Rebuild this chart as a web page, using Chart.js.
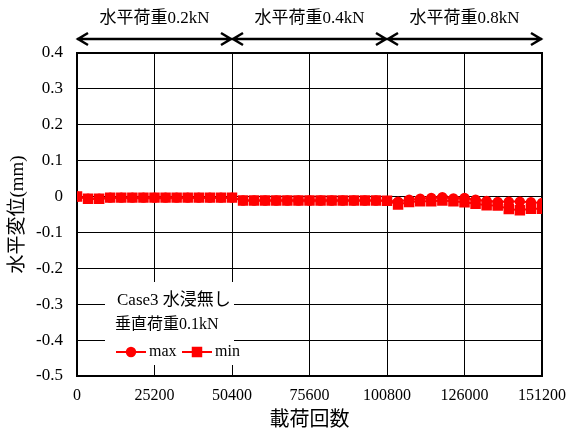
<!DOCTYPE html>
<html>
<head>
<meta charset="utf-8">
<script src="https://cdn.jsdelivr.net/npm/chart.js@4.4.1/dist/chart.umd.min.js"></script>
<style>
  html, body { margin: 0; padding: 0; background: #fff; }
</style>
</head>
<body>
<canvas id="myChart" width="570" height="434"></canvas>
<script>
// 載荷回数
var cycles = [0, 3600, 7200, 10800, 14400, 18000, 21600, 25200, 28800, 32400, 36000,
  39600, 43200, 46800, 50400, 54000, 57600, 61200, 64800, 68400, 72000, 75600,
  79200, 82800, 86400, 90000, 93600, 97200, 100800, 104400, 108000, 111600, 115200,
  118800, 122400, 126000, 129600, 133200, 136800, 140400, 144000, 147600, 151200];
// 水平変位 max / min (mm)
var maxDisp = [0, -0.006, -0.006, -0.003, -0.003, -0.003, -0.003, -0.003, -0.003, -0.003, -0.003,
  -0.003, -0.003, -0.003, -0.003, -0.011, -0.011, -0.011, -0.011, -0.011, -0.011, -0.011,
  -0.011, -0.011, -0.011, -0.011, -0.011, -0.011, -0.012, -0.014, -0.009, -0.006, -0.004,
  -0.002, -0.005, -0.004, -0.009, -0.012, -0.015, -0.014, -0.014, -0.016, -0.018];
var minDisp = [0, -0.006, -0.006, -0.003, -0.003, -0.003, -0.003, -0.003, -0.003, -0.003, -0.003,
  -0.003, -0.003, -0.003, -0.003, -0.011, -0.011, -0.011, -0.011, -0.011, -0.011, -0.011,
  -0.011, -0.011, -0.011, -0.011, -0.011, -0.011, -0.012, -0.022, -0.015, -0.013, -0.013,
  -0.011, -0.013, -0.016, -0.020, -0.024, -0.025, -0.035, -0.038, -0.034, -0.034];

var xTicks = [0, 25200, 50400, 75600, 100800, 126000, 151200];
var yTicks = [0.4, 0.3, 0.2, 0.1, 0, -0.1, -0.2, -0.3, -0.4, -0.5];

// load steps shown above the plot
var stageBounds = [0, 50400, 100800, 151200];
var stageLabels = ['水平荷重0.2kN', '水平荷重0.4kN', '水平荷重0.8kN'];

var caseTitle = 'Case3 水浸無し';
var caseNote = '垂直荷重0.1kN';

var FONT = "'Liberation Serif', 'Noto Sans CJK JP', serif";
Chart.defaults.font.family = FONT;
Chart.defaults.color = '#000';

function pts(vals) {
  return cycles.map(function (c, i) { return { x: c, y: vals[i] }; });
}

// frame + note box, under the data
var framePlugin = {
  id: 'frame',
  beforeDatasetsDraw: function (chart) {
    var ctx = chart.ctx, a = chart.chartArea;
    ctx.save();
    ctx.strokeStyle = '#000';
    ctx.lineWidth = 2;
    ctx.strokeRect(a.left, a.top, a.right - a.left, a.bottom - a.top);

    // note box with case name and legend
    var bx = a.left + 28, by = a.top + 229;
    ctx.fillStyle = '#fff';
    ctx.fillRect(bx, by, 129, 83);
    ctx.fillStyle = '#000';
    ctx.textBaseline = 'middle';
    ctx.textAlign = 'left';
    ctx.font = '17px ' + FONT;
    ctx.fillText(caseTitle, bx + 12, by + 19);
    ctx.font = '16px ' + FONT;
    ctx.fillText(caseNote, bx + 10, by + 43);

    var ly = by + 70;
    chart.data.datasets.forEach(function (ds, i) {
      var x0 = bx + 11 + i * 66;
      ctx.strokeStyle = ds.borderColor;
      ctx.lineWidth = 2;
      ctx.beginPath();
      ctx.moveTo(x0, ly);
      ctx.lineTo(x0 + 30, ly);
      ctx.stroke();
      ctx.fillStyle = ds.pointBackgroundColor;
      Chart.helpers.drawPoint(ctx, {
        pointStyle: ds.pointStyle, radius: ds.pointRadius,
        borderWidth: 1, rotation: 0
      }, x0 + 15, ly);
      ctx.fillStyle = '#000';
      ctx.font = '16px ' + FONT;
      ctx.fillText(ds.label, x0 + 33, ly);
    });
    ctx.restore();
  },
  afterDraw: function (chart) {
    var ctx = chart.ctx, xs = chart.scales.x;
    var ay = 39, head = 11;
    ctx.save();
    ctx.strokeStyle = '#000';
    ctx.fillStyle = '#000';
    ctx.lineWidth = 2.5;
    ctx.font = '17px ' + FONT;
    ctx.textAlign = 'center';
    ctx.textBaseline = 'middle';
    for (var i = 0; i < stageLabels.length; i++) {
      var x0 = xs.getPixelForValue(stageBounds[i]);
      var x1 = xs.getPixelForValue(stageBounds[i + 1]);
      ctx.beginPath();
      ctx.moveTo(x0, ay);
      ctx.lineTo(x1, ay);
      ctx.moveTo(x0 + head, ay - 6);
      ctx.lineTo(x0 + 1, ay);
      ctx.lineTo(x0 + head, ay + 6);
      ctx.moveTo(x1 - head, ay - 6);
      ctx.lineTo(x1 - 1, ay);
      ctx.lineTo(x1 - head, ay + 6);
      ctx.stroke();
      ctx.fillText(stageLabels[i], (x0 + x1) / 2, 19);
    }
    ctx.restore();
  }
};

var ctx = document.getElementById('myChart');
var myChart = new Chart(ctx, {
  type: 'line',
  data: {
    datasets: [
      {
        label: 'max',
        data: pts(maxDisp),
        borderColor: '#ff0000',
        backgroundColor: '#ff0000',
        pointBackgroundColor: '#ff0000',
        pointBorderColor: '#ff0000',
        pointStyle: 'circle',
        pointRadius: 4.2,
        borderWidth: 2,
        fill: false
      },
      {
        label: 'min',
        data: pts(minDisp),
        borderColor: '#ff0000',
        backgroundColor: '#ff0000',
        pointBackgroundColor: '#ff0000',
        pointBorderColor: '#ff0000',
        pointStyle: 'rect',
        pointRadius: 6,
        borderWidth: 2,
        fill: false
      }
    ]
  },
  options: {
    responsive: false,
    animation: false,
    layout: { padding: { top: 53, right: 28, left: 0, bottom: 0 } },
    plugins: {
      legend: { display: false },
      tooltip: { enabled: false }
    },
    scales: {
      x: {
        type: 'linear',
        min: 0,
        max: 151200,
        afterFit: function (s) {
          s.height = 58;
          s.paddingLeft = 0;
          s.paddingRight = 0;
        },
        afterBuildTicks: function (s) {
          s.ticks = xTicks.map(function (v) { return { value: v }; });
        },
        grid: { color: '#000', lineWidth: 1, drawTicks: false },
        border: { display: false },
        ticks: {
          padding: 10,
          maxRotation: 0,
          autoSkip: false,
          font: { family: FONT, size: 16 },
          callback: function (v) { return String(v); }
        },
        title: {
          display: true,
          text: '載荷回数',
          font: { family: FONT, size: 20 },
          padding: { top: 0, bottom: 1 }
        }
      },
      y: {
        min: -0.5,
        max: 0.4,
        afterFit: function (s) {
          s.width = 77;
          s.paddingTop = 0;
          s.paddingBottom = 0;
        },
        afterBuildTicks: function (s) {
          s.ticks = yTicks.map(function (v) { return { value: v }; });
        },
        grid: { color: '#000', lineWidth: 1, drawTicks: false },
        border: { display: false },
        ticks: {
          padding: 14,
          autoSkip: false,
          font: { family: FONT, size: 17 },
          callback: function (v) { return String(Math.round(v * 10) / 10); }
        },
        title: {
          display: true,
          text: '水平変位(mm)',
          font: { family: FONT, size: 19 },
          padding: { top: 7, bottom: 0 }
        }
      }
    }
  },
  plugins: [framePlugin]
});
</script>
</body>
</html>
